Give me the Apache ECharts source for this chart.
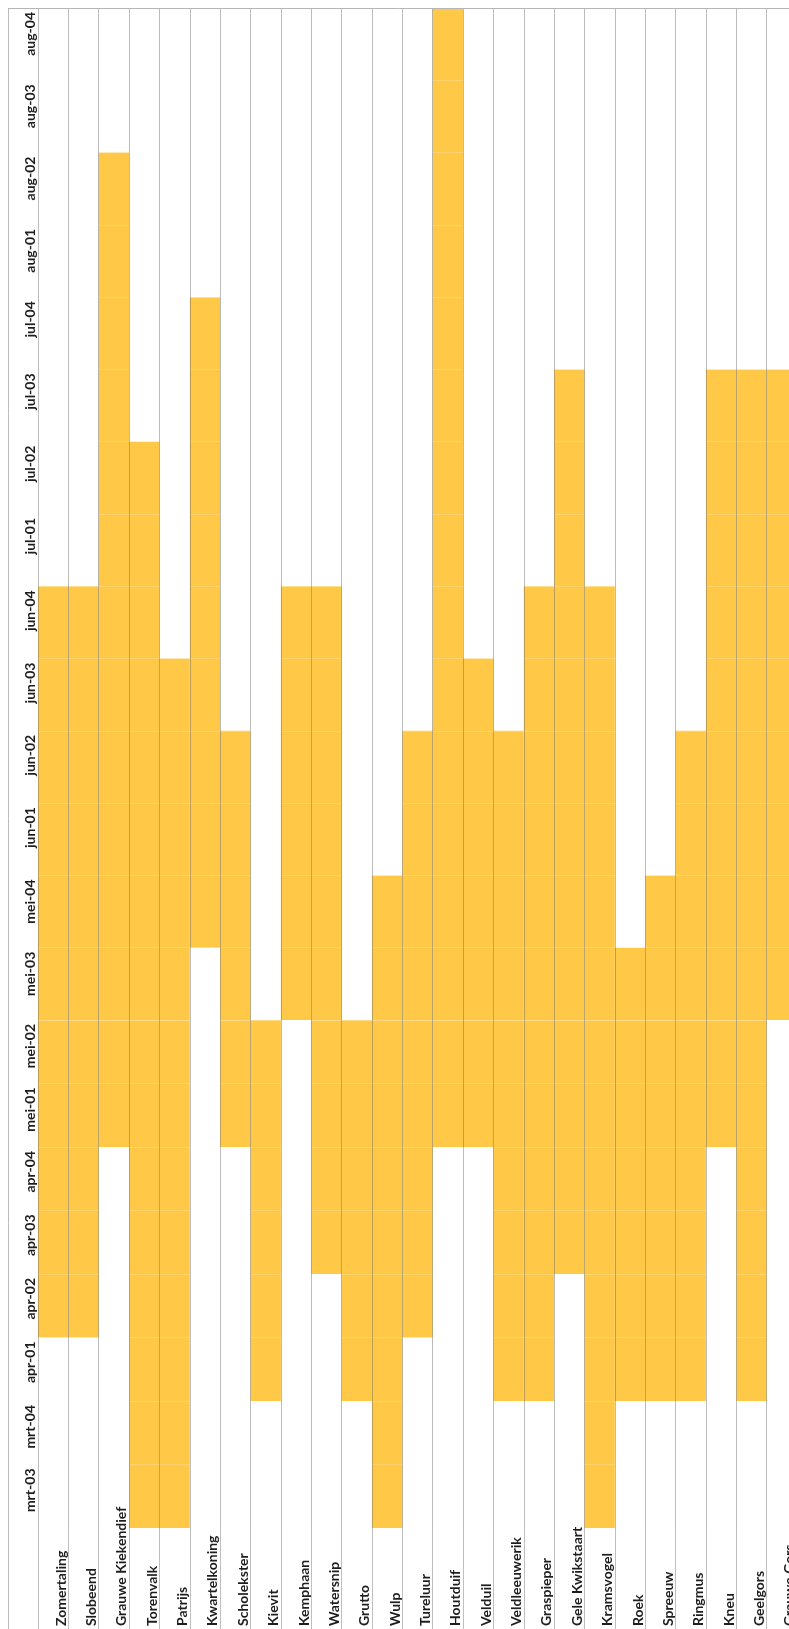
<!DOCTYPE html>
<html>
<head>
<meta charset="utf-8">
<title>Broedseizoen weidevogels</title>
<script src="https://cdn.jsdelivr.net/npm/echarts@6/dist/echarts.min.js"></script>
<style>
  html, body { margin: 0; padding: 0; background: #fff; }
  #chart { width: 789px; height: 1629px; }
</style>
</head>
<body>
<div id="chart"></div>
<script>
  // soorten (kolommen) en weken (rijen, van onder naar boven)
  var species = ['Zomertaling', 'Slobeend', 'Grauwe Kiekendief', 'Torenvalk', 'Patrijs',
    'Kwartelkoning', 'Scholekster', 'Kievit', 'Kemphaan', 'Watersnip', 'Grutto', 'Wulp',
    'Tureluur', 'Houtduif', 'Velduil', 'Veldleeuwerik', 'Graspieper', 'Gele Kwikstaart',
    'Kramsvogel', 'Roek', 'Spreeuw', 'Ringmus', 'Kneu', 'Geelgors', 'Grauwe Gors'];
  var weeks = ['mrt-03', 'mrt-04', 'apr-01', 'apr-02', 'apr-03', 'apr-04', 'mei-01', 'mei-02',
    'mei-03', 'mei-04', 'jun-01', 'jun-02', 'jun-03', 'jun-04', 'jul-01', 'jul-02', 'jul-03',
    'jul-04', 'aug-01', 'aug-02', 'aug-03', 'aug-04'];
  // eerste en laatste week per soort
  var firstWeek = ['apr-02', 'apr-02', 'mei-01', 'mrt-03', 'mrt-03', 'mei-04', 'mei-01', 'apr-01',
    'mei-03', 'apr-03', 'apr-01', 'mrt-03', 'apr-02', 'mei-01', 'mei-01', 'apr-01', 'apr-01',
    'apr-03', 'mrt-03', 'apr-01', 'apr-01', 'apr-01', 'mei-01', 'apr-01', 'mei-03'];
  var lastWeek = ['jun-04', 'jun-04', 'aug-02', 'jul-02', 'jun-03', 'jul-04', 'jun-02', 'mei-02',
    'jun-04', 'jun-04', 'mei-02', 'mei-04', 'jun-02', 'aug-04', 'jun-03', 'jun-02', 'jun-04',
    'jul-03', 'jun-04', 'mei-03', 'mei-04', 'jun-02', 'jul-03', 'jul-03', 'jul-03'];

  var data = species.map(function (s, i) {
    return [i, weeks.indexOf(firstWeek[i]), weeks.indexOf(lastWeek[i]) + 1];
  });

  var barColor = 'rgb(255,200,70)';
  var colLine = 'rgba(95,95,95,0.42)';
  var font = 'Lato, "Open Sans", sans-serif';

  function renderPeriod(params, api) {
    var lo = api.coord([api.value(0), api.value(1)]);
    var hi = api.coord([api.value(0), api.value(2)]);
    var w = api.size([1, 0])[0];
    var cs = params.coordSys;
    var shape = echarts.graphic.clipRectByRect(
      { x: lo[0] - w / 2, y: hi[1], width: w, height: lo[1] - hi[1] },
      { x: cs.x, y: cs.y, width: cs.width, height: cs.height }
    );
    return shape && { type: 'rect', shape: shape, style: { fill: barColor } };
  }

  function weekLabel(minTick) {
    return function (v) { return v > minTick ? weeks[v - 1] : ''; };
  }

  var yLabel = {
    rotate: 90, align: 'right', verticalAlign: 'top', margin: 16,
    padding: [0, 4, 0, 0], lineHeight: 16,
    fontFamily: font, fontWeight: 'bold', fontSize: 14, color: '#1e1e1e'
  };

  var myChart = echarts.init(document.getElementById('chart'));
  myChart.setOption({
    animation: false,
    backgroundColor: '#fff',
    grid: [
      { left: 38, top: 8, width: 759, height: 1012, outerBoundsMode: 'none' },
      { left: 38, top: 1020, width: 759, height: 508, outerBoundsMode: 'none' }
    ],
    xAxis: [
      {
        gridIndex: 0, type: 'category', data: species, position: 'top', z: 5,
        axisLine: { show: false }, axisTick: { show: false }, axisLabel: { show: false },
        splitLine: { show: true, interval: 0, lineStyle: { color: colLine, width: 1 } }
      },
      {
        gridIndex: 1, type: 'category', data: species, position: 'bottom', z: 5,
        axisLine: { show: false },
        axisTick: { show: true, interval: 0, length: 101, lineStyle: { color: '#bfbfbf' } },
        axisLabel: {
          interval: 0, rotate: 90, align: 'left', verticalAlign: 'top', margin: 98,
          lineHeight: 16,
          fontFamily: font, fontWeight: 'bold', fontSize: 14, color: '#1e1e1e'
        },
        splitLine: { show: true, interval: 0, lineStyle: { color: colLine, width: 1 } }
      }
    ],
    yAxis: [
      {
        gridIndex: 0, type: 'value', min: 8, max: 22, interval: 1, z: 4,
        axisLine: { show: false }, axisTick: { show: false },
        axisLabel: Object.assign({ formatter: weekLabel(8) }, yLabel),
        splitLine: { show: true, lineStyle: { color: 'rgba(255,255,255,0.2)' } }
      },
      {
        gridIndex: 1, type: 'value', min: 0, max: 8, interval: 1, z: 4,
        axisLine: { show: false }, axisTick: { show: false },
        axisLabel: Object.assign({ formatter: weekLabel(0) }, yLabel),
        splitLine: { show: true, lineStyle: { color: 'rgba(255,255,255,0.2)' } }
      }
    ],
    graphic: [
      { type: 'line', z: 10, shape: { x1: 8.5, y1: 8, x2: 8.5, y2: 1629 }, style: { stroke: '#bdbdbd', lineWidth: 1 } },
      { type: 'line', z: 10, shape: { x1: 8, y1: 8.5, x2: 789, y2: 8.5 }, style: { stroke: '#b5b5b5', lineWidth: 1 } }
    ],
    series: [
      { type: 'custom', xAxisIndex: 0, yAxisIndex: 0, renderItem: renderPeriod, encode: { x: 0, y: [1, 2] }, data: data },
      { type: 'custom', xAxisIndex: 1, yAxisIndex: 1, renderItem: renderPeriod, encode: { x: 0, y: [1, 2] }, data: data }
    ]
  });
</script>
</body>
</html>
